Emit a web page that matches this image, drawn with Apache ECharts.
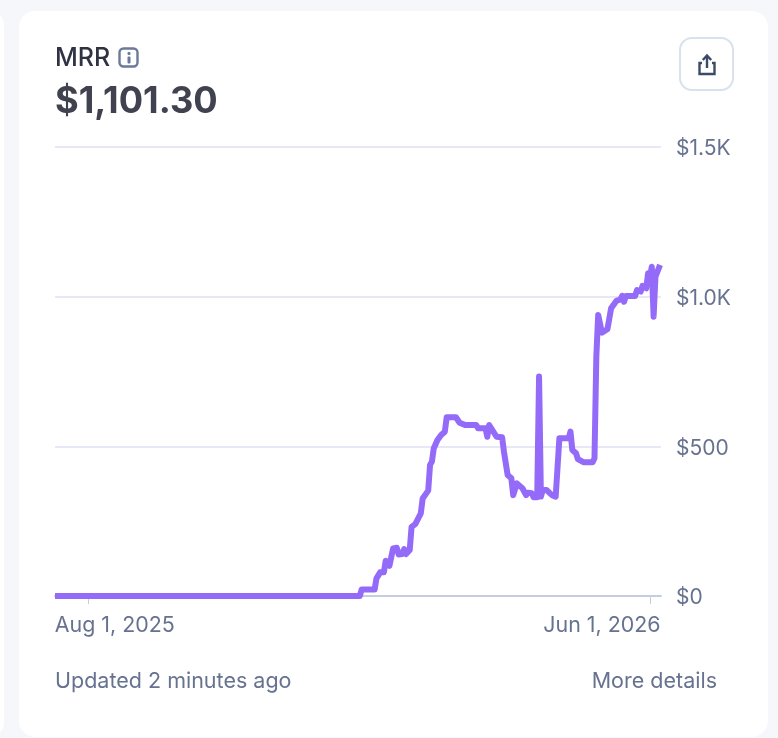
<!DOCTYPE html>
<html>
<head>
<meta charset="utf-8">
<style>html,body{margin:0;padding:0;background:#f5f7fb}#c{width:778px;height:738px}</style>
<script src="https://cdn.jsdelivr.net/npm/echarts@6/dist/echarts.min.js"></script>
</head>
<body>
<div id="c"></div>
<script>
// Days since Aug 1, 2025, and the MRR in dollars on those days
const dayOffsets = [-18,136,147,148,155,156,158,160,161,162,163,165,167,168,170,171,172,174,175,177,
  180,181,184,185,186,187,189,191,193,194,199,201,204,210,211,215,216,217,218,221,
  224,225,227,229,230,232,233,235,237,238,240,241,243,244,245,246,248,251,253,255,
  260,261,262,264,265,268,273,274,275,276,278,281,283,286,288,289,290,291,296,297,
  299,300,302,303,304,305,306,307,308,309.5];
const mrrValues = [0,0,0,22,22,59,79,79,118,118,101,159,161,139,140,157,140,154,231,240,
  276,326,352,438,449,493,521,538,549,597,597,579,571,571,560,560,532,571,571,532,
  530,482,404,393,337,376,376,360,337,345,343,330,330,733,332,354,354,337,332,527,
  527,549,488,477,457,447,447,460,800,939,880,891,961,987,990,1003,983,1002,1002,1022,
  1017,1036,1028,1078,1060,1100,933,1067,1070,1106];
const xTickLabels = ['Aug 1, 2025','Jun 1, 2026'];
const xTickOffsets = [0,304];
const yTicks = [0,500,1000,1500];
const yTickLabels = ['$0','$500','$1.0K','$1.5K'];
const metricName = 'MRR';
const metricValue = '$1,101.30';
const footerLeft = 'Updated 2 minutes ago';
const footerRight = 'More details';

const font = 'Inter, "Noto Sans", sans-serif';
const grey = '#66728f';
const seriesData = dayOffsets.map((d,i)=>[d, mrrValues[i]]);

const chart = echarts.init(document.getElementById('c'), null, {renderer:'canvas'});
chart.setOption({
  animation:false,
  backgroundColor:'#f5f7fb',
  grid:{left:55,right:117,top:147,bottom:142,containLabel:false},
  xAxis:{
    type:'value', min:-18, max:310,
    axisLine:{show:true,lineStyle:{color:'#c3cfe0',width:2}},
    axisTick:{show:true,length:8,lineStyle:{color:'#c3cfe0',width:1},customValues:xTickOffsets},
    splitLine:{show:false},
    axisLabel:{
      show:true,margin:19,customValues:xTickOffsets,
      hideOverlap:false,showMinLabel:true,showMaxLabel:true,
      formatter:v => v===xTickOffsets[0] ? '{a|'+xTickLabels[0]+'}' : '{b|'+xTickLabels[1]+'}',
      rich:{
        a:{fontFamily:font,fontSize:21.4,color:grey,padding:[0,0,0,53]},
        b:{fontFamily:font,fontSize:21.4,color:grey,padding:[0,96,0,0]}
      }
    }
  },
  yAxis:{
    type:'value', position:'right', min:0, max:1500, interval:500,
    axisLine:{show:false},axisTick:{show:false},
    splitLine:{show:true,lineStyle:{color:'#e6e8f5',width:2}},
    axisLabel:{
      margin:15,showMinLabel:true,showMaxLabel:true,
      formatter:v=>'{v|'+yTickLabels[yTicks.indexOf(v)]+'}',
      rich:{v:{fontFamily:font,fontSize:21,color:grey,padding:[4,0,0,0]}}
    }
  },
  series:[{
    type:'line',data:seriesData,showSymbol:false,clip:false,smooth:false,
    lineStyle:{color:'#946bf8',width:6,cap:'butt',join:'round'},z:5
  }],
  graphic:[
    {type:'rect',z:-10,shape:{x:-30,y:11,width:34,height:726,r:14},style:{fill:'#fff'}},
    {type:'rect',z:-10,shape:{x:19,y:11,width:749,height:726,r:16},style:{fill:'#fff'}},
    {type:'text',z:10,style:{x:55,y:46,text:metricName,font:'500 25px '+font,fill:'#2f3243'}},
    {type:'text',z:10,style:{x:55,y:84,text:metricValue,font:'700 36.2px '+font,fill:'#40434f'}},
    {type:'rect',z:10,shape:{x:119.5,y:48.5,width:18,height:18,r:4},style:{fill:'#fff',stroke:'#6b7a99',lineWidth:2.4}},
    {type:'rect',z:10,shape:{x:127.5,y:52,width:3,height:3,r:1},style:{fill:'#6b7a99'}},
    {type:'rect',z:10,shape:{x:127.5,y:56.5,width:3,height:7,r:1},style:{fill:'#6b7a99'}},
    {type:'rect',z:10,shape:{x:680,y:38,width:53,height:52,r:12},style:{fill:'#fff',stroke:'#d8e1ec',lineWidth:2}},
    {type:'polyline',z:11,shape:{points:[[702,63],[699.5,63],[699.5,74],[714.5,74],[714.5,63],[712,63]]},style:{fill:'none',stroke:'#3b4a66',lineWidth:2.4}},
    {type:'polyline',z:11,shape:{points:[[707,68],[707,56]]},style:{fill:'none',stroke:'#3b4a66',lineWidth:2.4}},
    {type:'polyline',z:11,shape:{points:[[702.8,60],[707,55.5],[711.2,60]]},style:{fill:'none',stroke:'#3b4a66',lineWidth:2.4}},
    {type:'text',z:10,style:{x:55,y:671,text:footerLeft,font:'400 21.5px '+font,fill:grey}},
    {type:'text',z:10,style:{x:717,y:671,text:footerRight,align:'right',font:'400 21.5px '+font,fill:grey}}
  ]
});
</script>
</body>
</html>
